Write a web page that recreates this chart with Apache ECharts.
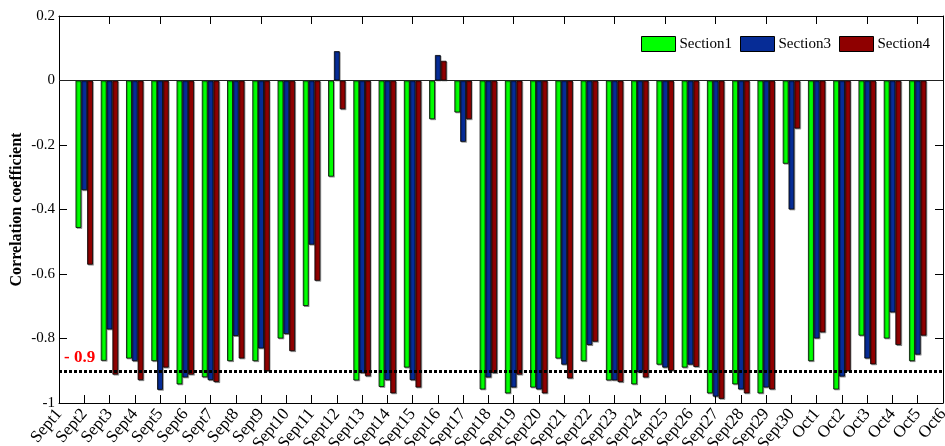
<!DOCTYPE html>
<html>
<head>
<meta charset="utf-8">
<script src="https://cdn.jsdelivr.net/npm/echarts@6/dist/echarts.min.js"></script>
<style>
  html, body { margin: 0; padding: 0; background: #fff; }
  #chart { width: 945px; height: 446px; }
</style>
</head>
<body>
<div id="chart"></div>
<script>
// Daily correlation coefficients per section, Sept 1 – Oct 6
const days = [
  'Sept1','Sept2','Sept3','Sept4','Sept5','Sept6','Sept7','Sept8','Sept9','Sept10',
  'Sept11','Sept12','Sept13','Sept14','Sept15','Sept16','Sept17','Sept18','Sept19','Sept20',
  'Sept21','Sept22','Sept23','Sept24','Sept25','Sept26','Sept27','Sept28','Sept29','Sept30',
  'Oct1','Oct2','Oct3','Oct4','Oct5','Oct6'
];

const section1 = [
  null, -0.457, -0.869, -0.862, -0.870, -0.942, -0.920, -0.870, -0.870, -0.800,
  -0.699, -0.298, -0.930, -0.950, -0.890, -0.120, -0.099, -0.958, -0.970, -0.952,
  -0.862, -0.870, -0.930, -0.942, -0.881, -0.890, -0.970, -0.942, -0.970, -0.258,
  -0.870, -0.958, -0.791, -0.800, -0.870, null
];

const section3 = [
  null, -0.340, -0.772, -0.870, -0.959, -0.921, -0.929, -0.792, -0.831, -0.786,
  -0.509, 0.091, -0.907, -0.929, -0.929, 0.079, -0.190, -0.921, -0.952, -0.958,
  -0.881, -0.820, -0.930, -0.905, -0.890, -0.881, -0.980, -0.958, -0.952, -0.400,
  -0.800, -0.918, -0.862, -0.719, -0.850, null
];

const section4 = [
  null, -0.571, -0.912, -0.929, -0.890, -0.912, -0.935, -0.862, -0.901, -0.839,
  -0.621, -0.089, -0.917, -0.970, -0.952, 0.061, -0.120, -0.907, -0.912, -0.970,
  -0.924, -0.810, -0.935, -0.921, -0.900, -0.888, -0.987, -0.970, -0.958, -0.149,
  -0.781, -0.901, -0.880, -0.820, -0.791, null
];

const threshold = -0.9;

const serif = '"Liberation Serif", "Times New Roman", serif';
const frame = { show: true, lineStyle: { color: '#000', width: 1 } };
const inTick = { show: true, inside: true, length: 8, lineStyle: { color: '#000', width: 1 } };

function barSeries(name, data, color) {
  return {
    name: name,
    type: 'bar',
    data: data,
    barWidth: 5.8,
    barGap: '0%',
    itemStyle: {
      color: color,
      borderColor: '#000',
      borderWidth: 0.8,
      shadowColor: 'rgba(0,0,0,0.3)',
      shadowOffsetX: 1,
      shadowOffsetY: 1,
      shadowBlur: 0.5
    }
  };
}

const s1 = barSeries('Section1', section1, '#00ff00');
const s3 = barSeries('Section3', section3, '#062c96');
const s4 = barSeries('Section4', section4, '#8f0000');

// zero line and the -0.9 reference line
s4.markLine = {
  silent: true,
  symbol: 'none',
  animation: false,
  data: [
    { yAxis: 0, lineStyle: { color: '#222', width: 1, type: 'solid' }, label: { show: false } },
    {
      yAxis: threshold,
      lineStyle: { color: '#000', width: 3, type: [3, 2] },
      label: {
        show: true,
        position: 'insideStartTop',
        distance: [5, 5],
        formatter: '- ' + Math.abs(threshold),
        color: '#ff0000',
        fontWeight: 'bold',
        fontSize: 17,
        fontFamily: serif
      }
    }
  ]
};

const chart = echarts.init(document.getElementById('chart'), null, { renderer: 'canvas' });
chart.setOption({
  animation: false,
  backgroundColor: '#fff',
  grid: { left: 59, right: 2, top: 16, bottom: 43, containLabel: false, outerBoundsMode: 'none' },
  legend: {
    data: ['Section1', 'Section3', 'Section4'],
    right: 10,
    top: 31,
    itemWidth: 34,
    itemHeight: 15,
    itemGap: 8,
    icon: 'rect',
    itemStyle: { borderColor: '#000', borderWidth: 1 },
    textStyle: { fontFamily: serif, fontSize: 15, color: '#000', padding: [0, 0, 0, -1] }
  },
  xAxis: [
    {
      type: 'category',
      data: days,
      boundaryGap: false,
      axisLine: Object.assign({ onZero: false }, frame),
      axisTick: inTick,
      axisLabel: {
        interval: 0,
        rotate: 50,
        margin: 8,
        color: '#000',
        fontFamily: serif,
        fontSize: 17
      }
    },
    {
      type: 'category',
      data: days,
      position: 'top',
      boundaryGap: false,
      axisLine: Object.assign({ onZero: false }, frame),
      axisTick: inTick,
      axisLabel: { show: false }
    }
  ],
  yAxis: [
    {
      type: 'value',
      min: -1,
      max: 0.2,
      interval: 0.2,
      name: 'Correlation coefficient',
      nameLocation: 'middle',
      nameGap: 34,
      nameMoveOverlap: false,
      nameTextStyle: { fontFamily: serif, fontWeight: 'bold', fontSize: 16, color: '#000' },
      axisLine: frame,
      axisTick: inTick,
      splitLine: { show: false },
      axisLabel: {
        color: '#000',
        fontFamily: serif,
        fontSize: 15,
        margin: 4,
        formatter: v => String(Number(v.toFixed(1)))
      }
    },
    {
      type: 'value',
      min: -1,
      max: 0.2,
      interval: 0.2,
      position: 'right',
      axisLine: frame,
      axisTick: inTick,
      splitLine: { show: false },
      axisLabel: { show: false }
    }
  ],
  series: [s1, s3, s4]
});
</script>
</body>
</html>
